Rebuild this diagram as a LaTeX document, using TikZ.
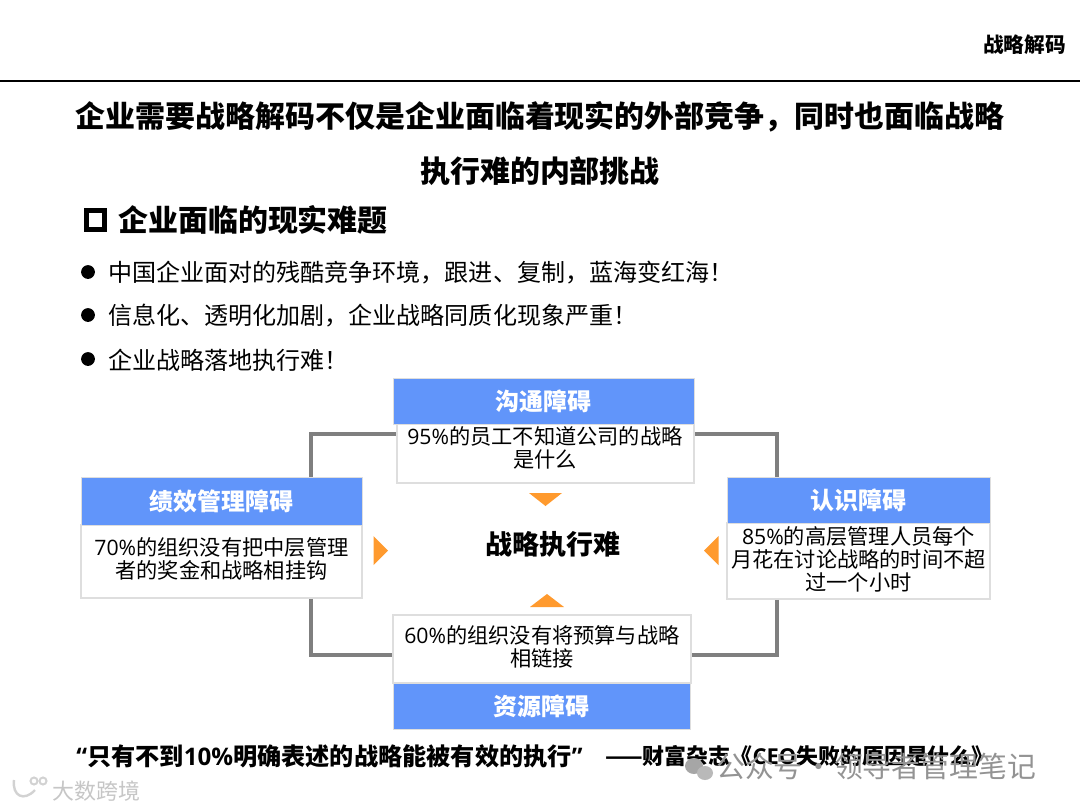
\documentclass[tikz,border=0pt]{standalone}
\usepackage{fontspec}
\setmainfont{Noto Sans CJK SC}
\newfontfamily\latfont{Open Sans}
\newcommand{\nm}[1]{{\latfont #1}}
\definecolor{headblue}{RGB}{97,149,250}
\definecolor{markorange}{RGB}{255,154,46}
\definecolor{linkgray}{RGB}{127,127,127}
\definecolor{edgegray}{RGB}{222,222,222}
\tikzset{
  headbox/.style={fill=headblue,draw=edgegray,line width=0.02cm,inner sep=0pt,minimum height=1.15cm,text=white,font=\fontsize{17}{20}\selectfont\bfseries},
  bodybox/.style={fill=white,draw=edgegray,line width=0.04cm,inner sep=0pt},
  bodytext/.style={align=center,inner sep=0pt,font=\fontsize{15.1}{16.4}\selectfont},
  link/.style={draw=linkgray,line width=0.1cm},
  pointer/.style={fill=markorange},
  bullettext/.style={anchor=west,inner sep=0pt,font=\fontsize{17.1}{20}\selectfont},
  titletext/.style={inner sep=0pt,font=\fontsize{21.3}{25}\selectfont\bfseries},
  markmark/.style={text=gray!85,inner sep=0pt}
}
\begin{document}
\begin{tikzpicture}[x=0.025cm,y=-0.025cm]
  \useasboundingbox (0,0) rectangle (1080,810);
  \fill[white] (0,0) rectangle (1080,810);
  \node[anchor=east,inner sep=0pt,font=\fontsize{14.7}{18}\selectfont\bfseries] (tag) at (1066,45) {战略解码};
  \coordinate (ruleleft) at (0,81);
  \coordinate (ruleright) at (1080,81);
  \draw[black,line width=0.03cm] (ruleleft) -- (ruleright);

  \node[titletext] (title) at (540,117) {企业需要战略解码不仅是企业面临着现实的外部竞争，同时也面临战略};
  \node[titletext] (titlenext) at (540,171) {执行难的内部挑战};
  \node[draw=black,line width=0.12cm,inner sep=0pt,minimum size=0.46cm] (square) at (95.5,220) {};
  \node[titletext,anchor=west] (problem) at (118,220) {企业面临的现实难题};

  \foreach \y/\i/\t in {273/a/{中国企业面对的残酷竞争环境，跟进、复制，蓝海变红海！},
                        316/b/{信息化、透明化加剧，企业战略同质化现象严重！},
                        360/c/{企业战略落地执行难！}} {
    \node[fill=black,circle,inner sep=0pt,minimum size=0.345cm] (dot\i) at (88,\y-1) {};
    \node[bullettext] (item\i) at (108,\y) {\t};
  }

  \coordinate (linkleft) at (311,434);
  \coordinate (linkright) at (777,434);
  \coordinate (linkbottom) at (311,655);

  \node[bodybox,minimum width=7.425cm,minimum height=1.475cm] (commbody) at (545.5,453.5) {};
  \node[headbox,minimum width=7.525cm] (commhead) at (543.5,401) {沟通障碍};
  \node[bodytext] (commtext) at (545,448) {\nm{95\%}的员工不知道公司的战略\\是什么};

  \node[bodybox,minimum width=7.025cm,minimum height=1.825cm] (perfbody) at (221.5,561.5) {};
  \node[headbox,minimum width=7.025cm,minimum height=1.2cm] (perfhead) at (221.5,501) {绩效管理障碍};
  \node[bodytext] (perftext) at (221.5,558.5) {\nm{70\%}的组织没有把中层管理\\者的奖金和战略相挂钩};

  \node[bodybox,minimum width=6.575cm,minimum height=1.9cm] (recogbody) at (858.5,561) {};
  \node[headbox,minimum width=6.575cm] (recoghead) at (858.5,500) {认识障碍};
  \node[bodytext] (recogtext) at (858.5,559) {\nm{85\%}的高层管理人员每个\\月花在讨论战略的时间不超\\过一个小时};

  \node[bodybox,minimum width=7.45cm,minimum height=1.7cm] (resbody) at (542,649) {};
  \node[headbox,minimum width=7.425cm] (reshead) at (541.5,706) {资源障碍};
  \node[bodytext] (restext) at (542,646.5) {\nm{60\%}的组织没有将预算与战略\\相链接};

  \draw[link] (linkleft |- perfhead.north) |- (commbody.west |- linkleft);
  \draw[link] (linkright |- recoghead.north) |- (commbody.east |- linkright);
  \draw[link] (linkleft |- perfbody.south) |- (resbody.west |- linkbottom);
  \draw[link] (linkright |- recogbody.south) |- (resbody.east |- linkbottom);

  \node[inner sep=0pt,font=\fontsize{19.2}{23}\selectfont\bfseries] (core) at (552.5,544) {战略执行难};
  \fill[pointer] (529,493) -- (562,493) -- (545.5,506) -- cycle;
  \fill[pointer] (530,607) -- (564,607) -- (547,594) -- cycle;
  \fill[pointer] (373.5,536) -- (388,550.5) -- (373.5,565) -- cycle;
  \fill[pointer] (718.5,536) -- (704,550.5) -- (718.5,565) -- cycle;

  \node[anchor=west,inner sep=0pt,font=\fontsize{17.2}{20}\selectfont\bfseries] (quote) at (76,756)
    {\nm{“}只有不到\nm{10\%}明确表述的战略能被有效的执行\nm{”}};
  \node[anchor=west,inner sep=0pt,font=\fontsize{15.6}{18}\selectfont\bfseries] (source) at (605,756)
    {——财富杂志《\nm{CEO}失败的原因是什么》};

  \fill[gray!70] (694,766) ellipse (9 and 8);
  \fill[gray!55] (705,773) ellipse (8 and 7);
  \node[markmark,anchor=west,font=\fontsize{20.5}{24}\selectfont] (markright) at (716,767) {公众号\hspace{-0.18em} · \hspace{-0.18em}领导者管理笔记};
  \draw[gray!35,line width=0.06cm] (14,780) .. controls (12,796) and (24,802) .. (35,790);
  \draw[gray!35,line width=0.05cm] (34,781) circle (3.5);
  \draw[gray!35,line width=0.05cm] (43,781) circle (3.5);
  \node[anchor=west,inner sep=0pt,text=gray!45,font=\fontsize{15.6}{19}\selectfont] (markleft) at (52,791) {大数跨境};
\end{tikzpicture}
\end{document}
